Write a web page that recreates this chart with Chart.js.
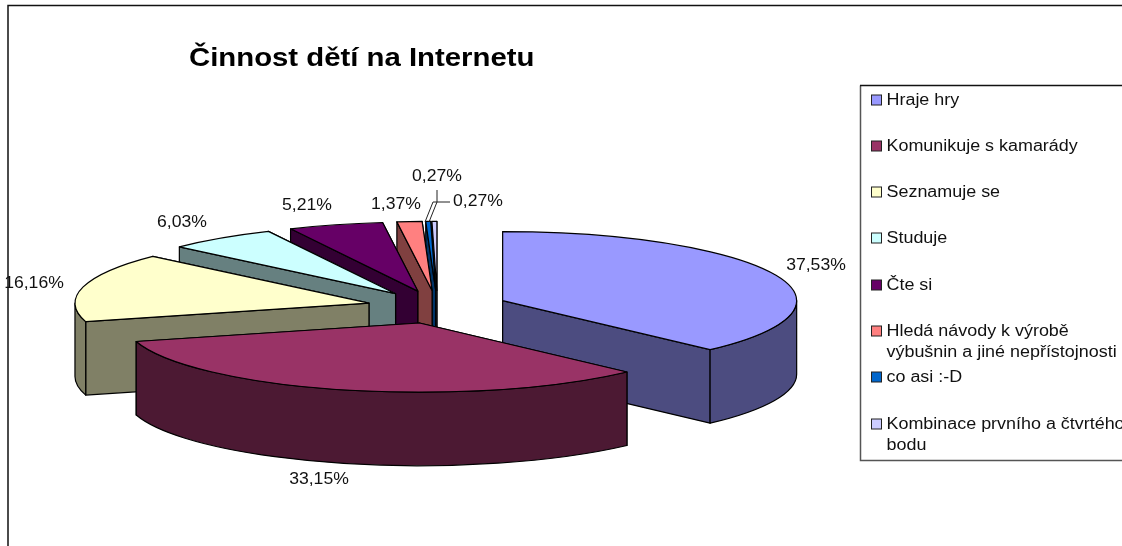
<!DOCTYPE html>
<html><head><meta charset="utf-8">
<style>html,body{margin:0;padding:0;background:#fff}canvas{display:block}</style>
<script src="https://cdn.jsdelivr.net/npm/chart.js@4"></script></head>
<body><canvas id="c" width="1122" height="546"></canvas>
<script>
const titleText = 'Činnost dětí na Internetu';
const categories = ['Hraje hry','Komunikuje s kamarády','Seznamuje se','Studuje','Čte si',
  'Hledá návody k výrobě výbušnin a jiné nepřístojnosti','co asi :-D','Kombinace prvního a čtvrtého bodu'];
const values = [37.53,33.15,16.16,6.03,5.21,1.37,0.27,0.27];
const topColors = ['#9999FF','#993366','#FFFFCC','#CCFFFF','#660066','#FF8080','#0066CC','#CCCCFF'];
const sideColors = ['#4C4C80','#4C1933','#808066','#668080','#330033','#804040','#003366','#666680'];
const legendLines = [['Hraje hry'],['Komunikuje s kamarády'],['Seznamuje se'],['Studuje'],['Čte si'],
  ['Hledá návody k výrobě','výbušnin a jiné nepřístojnosti'],['co asi :-D'],['Kombinace prvního a čtvrtého','bodu']];
const legendY = [100,146,192,238,285,331,377,424];
const labelSpots = [[816,265],[319,479],[34,283],[182,222],[307,205],[396,204],[437,176],[478,201]];

const K = 0.235, DEPTH = 73.5, EXPLODE = 70.5, TEXT_DY = 1.5;
const FONT = '16px "Liberation Sans", Arial, sans-serif';
const paintOrder = [7,6,5,4,3,0,2,1];
const geom = arc => {
  const p = arc.getProps(['x','y','startAngle','endAngle','outerRadius'], true);
  const mid = (p.startAngle+p.endAngle)/2;
  return {cx:p.x+Math.cos(mid)*EXPLODE, cy:p.y+Math.sin(mid)*EXPLODE*K, r:p.outerRadius, a0:p.startAngle, a1:p.endAngle, mid, x:p.x, y:p.y};
};
const pt = (g,a) => [g.cx+g.r*Math.cos(a), g.cy+g.r*K*Math.sin(a)];
const stretchText = (ctx,t,x,y,sx,align) => {
  ctx.save(); ctx.translate(x,y); ctx.scale(sx,1); ctx.textAlign=align; ctx.fillText(t,0,0); ctx.restore();
};
const pie3d = {
  id:'pie3d',
  beforeDatasetDraw(chart){
    const ctx = chart.ctx, arcs = chart.getDatasetMeta(0).data;
    ctx.save();
    ctx.lineWidth = 1.2; ctx.strokeStyle = '#000'; ctx.lineJoin='round';
    paintOrder.forEach(i => {
      const g = geom(arcs[i]);
      ctx.fillStyle = sideColors[i];
      const walls = [g.a0,g.a1].sort((u,v)=>pt(g,u)[1]-pt(g,v)[1]);
      walls.forEach(a => {
        const q = pt(g,a);
        ctx.beginPath(); ctx.moveTo(g.cx,g.cy); ctx.lineTo(q[0],q[1]);
        ctx.lineTo(q[0],q[1]+DEPTH); ctx.lineTo(g.cx,g.cy+DEPTH); ctx.closePath();
        ctx.fill(); ctx.stroke();
      });
      [[0,Math.PI],[2*Math.PI,3*Math.PI]].forEach(([lo,hi]) => {
        const u = Math.max(g.a0,lo), v = Math.min(g.a1,hi);
        if (v<=u) return;
        ctx.beginPath();
        ctx.ellipse(g.cx,g.cy,g.r,g.r*K,0,u,v);
        ctx.ellipse(g.cx,g.cy+DEPTH,g.r,g.r*K,0,v,u,true);
        ctx.closePath(); ctx.fill(); ctx.stroke();
      });
    });
    arcs.forEach(arc => {
      const g = geom(arc);
      const fix = 1 - Math.sin(Math.min(Math.PI, g.a1-g.a0));
      ctx.save();
      ctx.translate(g.cx - Math.cos(g.mid)*fix, g.cy);
      ctx.scale(1,K);
      ctx.translate(-g.x, -g.y - Math.sin(g.mid)*fix);
      arc.draw(ctx, chart.chartArea);
      ctx.restore();
    });
    arcs.forEach(arc => {
      const g = geom(arc);
      ctx.beginPath(); ctx.moveTo(g.cx,g.cy);
      ctx.ellipse(g.cx,g.cy,g.r,g.r*K,0,g.a0,g.a1);
      ctx.closePath(); ctx.stroke();
    });
    ctx.restore();
    return false;
  },
  afterDraw(chart){
    const ctx = chart.ctx;
    ctx.save();
    ctx.strokeStyle='#111'; ctx.lineWidth=1.5;
    ctx.beginPath(); ctx.moveTo(8,546); ctx.lineTo(8,5.5); ctx.lineTo(1122,5.5); ctx.stroke();
    ctx.fillStyle='#000'; ctx.textBaseline='alphabetic';
    ctx.font='bold 25.5px "Liberation Sans", Arial, sans-serif';
    stretchText(ctx,titleText,189,66,1.15,'left');
    ctx.font=FONT; ctx.textBaseline='middle'; ctx.fillStyle='#111';
    values.forEach((v,i)=>stretchText(ctx,v.toFixed(2).replace('.',',')+'%',labelSpots[i][0],labelSpots[i][1]+TEXT_DY-1,1.1,'center'));
    ctx.strokeStyle='#222'; ctx.lineWidth=1;
    ctx.beginPath(); ctx.moveTo(437,190); ctx.lineTo(437,202); ctx.lineTo(429,222);
    ctx.moveTo(450,202); ctx.lineTo(433,202); ctx.lineTo(425,222); ctx.stroke();
    ctx.strokeStyle='#555'; ctx.lineWidth=1.5;
    ctx.beginPath(); ctx.moveTo(860.5,85.5); ctx.lineTo(860.5,460.5); ctx.lineTo(1122,460.5); ctx.stroke();
    ctx.strokeStyle='#111';
    ctx.beginPath(); ctx.moveTo(860,85.5); ctx.lineTo(1122,85.5); ctx.stroke();
    ctx.font=FONT;
    legendLines.forEach((lines,i)=>{
      const y=legendY[i];
      ctx.fillStyle=topColors[i]; ctx.strokeStyle='#222'; ctx.lineWidth=1;
      ctx.fillRect(871.5,y-5,10,10); ctx.strokeRect(871.5,y-5,10,10);
      ctx.fillStyle='#111';
      lines.forEach((t,j)=>stretchText(ctx,t,886.5,y+j*21.5+TEXT_DY-1,1.12,'left'));
    });
    ctx.restore();
  }
};
new Chart(document.getElementById('c'),{
  type:'pie',
  data:{labels:categories,datasets:[{data:values,backgroundColor:topColors,borderWidth:0,radius:294,clip:false}]},
  options:{responsive:false,animation:false,events:[],
    layout:{padding:{left:0,right:247,top:68,bottom:0}},
    plugins:{legend:{display:false},title:{display:false},tooltip:{enabled:false}}},
  plugins:[pie3d]
});
</script></body></html>
